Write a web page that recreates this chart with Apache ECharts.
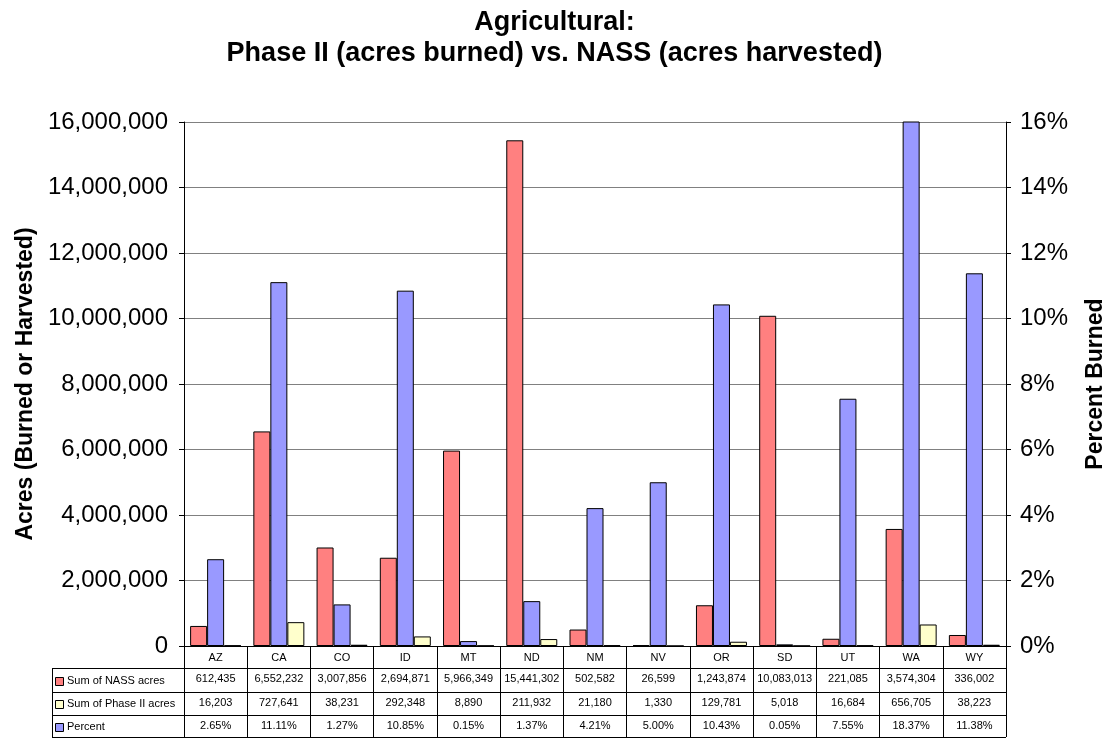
<!DOCTYPE html>
<html>
<head>
<meta charset="utf-8">
<script src="https://cdn.jsdelivr.net/npm/echarts@6/dist/echarts.min.js"></script>
<style>
html,body{margin:0;padding:0;background:#fff;}
#chart{width:1109px;height:738px;}
</style>
</head>
<body>
<div id="chart"></div>
<script>
var states = ['AZ','CA','CO','ID','MT','ND','NM','NV','OR','SD','UT','WA','WY'];
var nassAcres = [612435, 6552232, 3007856, 2694871, 5966349, 15441302, 502582, 26599, 1243874, 10083013, 221085, 3574304, 336002];
var phase2Acres = [16203, 727641, 38231, 292348, 8890, 211932, 21180, 1330, 129781, 5018, 16684, 656705, 38223];
var percentBurned = [2.65, 11.11, 1.27, 10.85, 0.15, 1.37, 4.21, 5.00, 10.43, 0.05, 7.55, 18.37, 11.38];
var seriesNames = ['Sum of NASS acres', 'Sum of Phase II acres', 'Percent'];
var colors = { nass: '#FF8080', phase: '#FFFFCC', pct: '#9999FF' };

var FONT = "'Liberation Sans', Arial, sans-serif";
var fmt = function (v) { return Number(v).toLocaleString('en-US'); };

var G = { left: 184, right: 103, top: 122, bottom: 92 };
var W = 1109, H = 738;
var tableLeft = 52;
var rowLines = [668, 692, 715, 737];

function tableAxis(offset, formatter) {
  return {
    type: 'category', data: states, gridIndex: 0, position: 'bottom', offset: offset,
    axisLine: { show: false }, axisTick: { show: false },
    axisLabel: { interval: 0, margin: 5, fontSize: 11, color: '#000', fontFamily: FONT, formatter: formatter }
  };
}

var graphics = [];
rowLines.forEach(function (y) {
  graphics.push({ type: 'line', shape: { x1: tableLeft, y1: y + 0.5, x2: W - G.right, y2: y + 0.5 }, style: { stroke: '#000', lineWidth: 1 } });
});
graphics.push({ type: 'line', shape: { x1: tableLeft + 0.5, y1: rowLines[0], x2: tableLeft + 0.5, y2: rowLines[3] + 1 }, style: { stroke: '#000', lineWidth: 1 } });
var keyColors = [colors.nass, colors.phase, colors.pct];
for (var i = 0; i < 3; i++) {
  var cy = (rowLines[i] + rowLines[i + 1]) / 2 + 0.5;
  graphics.push({ type: 'rect', shape: { x: 55.5, y: Math.round(cy - 4) + 0.5, width: 8, height: 8 }, style: { fill: keyColors[i], stroke: '#000', lineWidth: 1 } });
  graphics.push({ type: 'text', x: 67, y: cy, style: { text: seriesNames[i], font: '11px ' + FONT, fill: '#000', textVerticalAlign: 'middle', verticalAlign: 'middle' } });
}

var chart = echarts.init(document.getElementById('chart'), null, { renderer: 'canvas' });
chart.setOption({
  animation: false,
  backgroundColor: '#fff',
  title: {
    text: 'Agricultural:\nPhase II (acres burned) vs. NASS (acres harvested)',
    left: 'center', top: 2,
    textStyle: { fontFamily: FONT, fontSize: 27, fontWeight: 'bold', color: '#000', lineHeight: 31 }
  },
  grid: { left: G.left, right: G.right, top: G.top, bottom: G.bottom, containLabel: false, outerBoundsMode: 'none' },
  xAxis: [
    {
      type: 'category', data: states, position: 'bottom',
      axisLine: { show: true, lineStyle: { color: '#000', width: 1 } },
      axisTick: { show: true, length: 91, lineStyle: { color: '#000', width: 1 } },
      axisLabel: { interval: 0, margin: 6, fontSize: 11, color: '#000', fontFamily: FONT }
    },
    tableAxis(22, function (v, i) { return fmt(nassAcres[i]); }),
    tableAxis(46, function (v, i) { return fmt(phase2Acres[i]); }),
    tableAxis(69, function (v, i) { return percentBurned[i].toFixed(2) + '%'; })
  ],
  yAxis: [
    {
      type: 'value', min: 0, max: 16000000, interval: 2000000, position: 'left',
      name: 'Acres (Burned or Harvested)', nameLocation: 'middle', nameGap: 146,
      nameTextStyle: { fontFamily: FONT, fontSize: 23, fontWeight: 'bold', color: '#000' },
      axisLine: { show: true, lineStyle: { color: '#000' } },
      axisTick: { show: true, length: 5, lineStyle: { color: '#000' } },
      axisLabel: { margin: 16, fontSize: 24, color: '#000', fontFamily: FONT, formatter: function (v) { return fmt(v); } },
      splitLine: { show: true, lineStyle: { color: '#808080', width: 1 } }
    },
    {
      type: 'value', min: 0, max: 16, interval: 2, position: 'right',
      name: 'Percent Burned', nameLocation: 'middle', nameGap: 78, nameRotate: 90,
      nameTextStyle: { fontFamily: FONT, fontSize: 23, fontWeight: 'bold', color: '#000' },
      axisLine: { show: true, lineStyle: { color: '#000' } },
      axisTick: { show: true, length: 5, lineStyle: { color: '#000' } },
      axisLabel: { margin: 14, fontSize: 24, color: '#000', fontFamily: FONT, formatter: '{value}%' },
      splitLine: { show: false }
    }
  ],
  series: [
    { name: seriesNames[0], type: 'bar', xAxisIndex: 0, yAxisIndex: 0, data: nassAcres, barWidth: 17, barGap: '0%',
      itemStyle: { color: colors.nass, borderColor: '#000', borderWidth: 1 } },
    { name: seriesNames[2], type: 'bar', xAxisIndex: 0, yAxisIndex: 1, data: percentBurned, barWidth: 17, barGap: '0%', clip: true,
      itemStyle: { color: colors.pct, borderColor: '#000', borderWidth: 1 } },
    { name: seriesNames[1], type: 'bar', xAxisIndex: 0, yAxisIndex: 0, data: phase2Acres, barWidth: 17, barGap: '0%',
      itemStyle: { color: colors.phase, borderColor: '#000', borderWidth: 1 } }
  ],
  graphic: graphics
});
</script>
</body>
</html>
